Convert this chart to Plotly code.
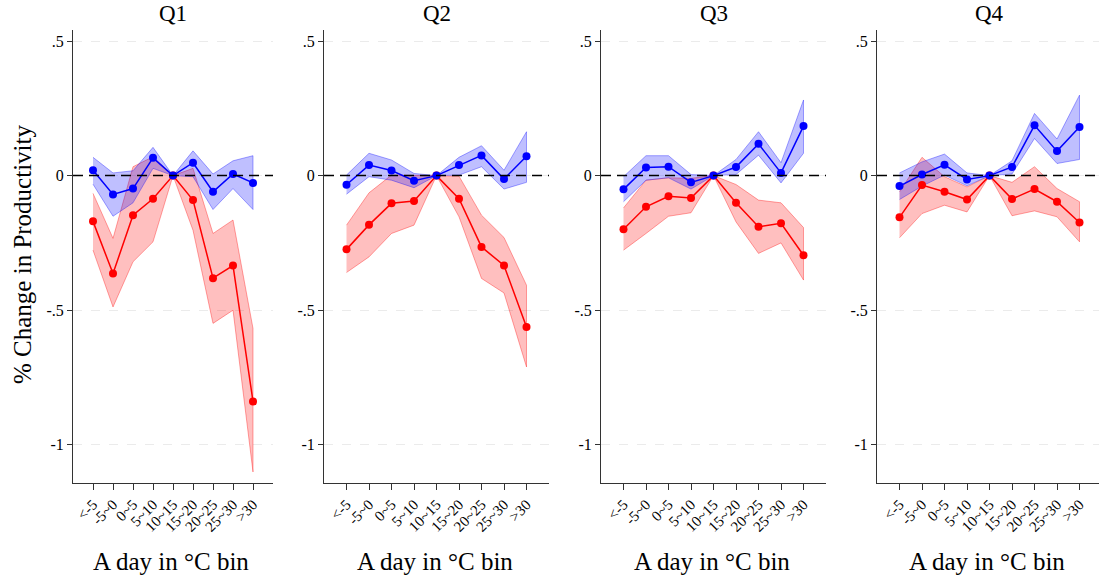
import plotly.graph_objects as go

bins = ["<-5", "-5~0", "0~5", "5~10", "10~15", "15~20", "20~25", "25~30", ">30"]
panels = ["Q1", "Q2", "Q3", "Q4"]
ytick_vals = [0.5, 0, -0.5, -1]
ytick_text = [".5", "0", "-.5", "-1"]

# Blue series (point estimate, upper CI, lower CI) per quarter
blue_q1 = [0.020, -0.070, -0.048, 0.066, 0, 0.048, -0.060, 0.006, -0.027]
blue_q1_hi = [0.068, 0.010, 0.018, 0.105, 0, 0.092, 0.006, 0.055, 0.074]
blue_q1_lo = [-0.032, -0.151, -0.101, 0.027, 0, -0.004, -0.126, -0.048, -0.126]
red_q1 = [-0.170, -0.364, -0.147, -0.086, 0, -0.091, -0.381, -0.334, -0.839]
red_q1_hi = [-0.066, -0.233, 0.033, 0.070, 0, 0.027, -0.215, -0.165, -0.568]
red_q1_lo = [-0.277, -0.488, -0.320, -0.246, 0, -0.203, -0.549, -0.500, -1.101]

blue_q2 = [-0.034, 0.039, 0.019, -0.019, 0, 0.039, 0.075, -0.013, 0.072]
blue_q2_hi = [0.002, 0.083, 0.058, 0.008, 0, 0.068, 0.111, 0.020, 0.163]
blue_q2_lo = [-0.069, -0.004, -0.017, -0.045, 0, 0.002, 0.033, -0.050, -0.025]
red_q2 = [-0.274, -0.183, -0.103, -0.094, 0, -0.086, -0.265, -0.334, -0.562]
red_q2_hi = [-0.184, -0.064, 0.002, 0.002, 0, -0.002, -0.147, -0.230, -0.407]
red_q2_lo = [-0.360, -0.302, -0.215, -0.184, 0, -0.153, -0.382, -0.436, -0.711]

blue_q3 = [-0.051, 0.030, 0.033, -0.025, 0, 0.032, 0.118, 0.010, 0.184]
blue_q3_hi = [-0.004, 0.074, 0.074, 0.004, 0, 0.060, 0.163, 0.048, 0.281]
blue_q3_lo = [-0.097, -0.017, -0.008, -0.050, 0, 0.004, 0.076, -0.027, 0.083]
red_q3 = [-0.199, -0.116, -0.077, -0.083, 0, -0.101, -0.190, -0.177, -0.296]
red_q3_hi = [-0.120, -0.017, -0.008, -0.010, 0, -0.033, -0.091, -0.101, -0.193]
red_q3_lo = [-0.277, -0.215, -0.151, -0.138, 0, -0.172, -0.289, -0.250, -0.388]

blue_q4 = [-0.039, 0.004, 0.040, -0.014, 0, 0.032, 0.187, 0.091, 0.181]
blue_q4_hi = [0.010, 0.051, 0.080, 0.010, 0, 0.055, 0.231, 0.136, 0.299]
blue_q4_lo = [-0.089, -0.039, 0.002, -0.038, 0, 0.006, 0.138, 0.045, 0.060]
red_q4 = [-0.155, -0.035, -0.060, -0.089, 0, -0.087, -0.050, -0.097, -0.174]
red_q4_hi = [-0.060, 0.068, -0.004, -0.042, 0, -0.025, 0.033, -0.048, -0.097]
red_q4_lo = [-0.231, -0.141, -0.110, -0.135, 0, -0.149, -0.131, -0.153, -0.246]

blue = [blue_q1, blue_q2, blue_q3, blue_q4]
blue_hi = [blue_q1_hi, blue_q2_hi, blue_q3_hi, blue_q4_hi]
blue_lo = [blue_q1_lo, blue_q2_lo, blue_q3_lo, blue_q4_lo]
red = [red_q1, red_q2, red_q3, red_q4]
red_hi = [red_q1_hi, red_q2_hi, red_q3_hi, red_q4_hi]
red_lo = [red_q1_lo, red_q2_lo, red_q3_lo, red_q4_lo]

W, H = 1099, 575
FONT = "Liberation Serif"
xpos = list(range(1, 10))

# panel pixel extents (left, right)
px_dom = [(73, 273), (324, 549), (601, 826), (877, 1099)]
y_top_px, y_bot_px = 30, 483
y_range = [-1.142, 0.541]

fig = go.Figure()

def band(xa, ya, hi, lo, fill, edge):
    fig.add_trace(go.Scatter(
        x=xpos + xpos[::-1], y=hi + lo[::-1], xaxis=xa, yaxis=ya,
        fill="toself", fillcolor=fill, mode="lines",
        line=dict(color=edge, width=1), hoverinfo="skip", showlegend=False))

def series(xa, ya, vals, color):
    fig.add_trace(go.Scatter(
        x=xpos, y=vals, xaxis=xa, yaxis=ya, mode="lines+markers",
        line=dict(color=color, width=1.5),
        marker=dict(color=color, size=8), showlegend=False))

layout = dict(
    width=W, height=H, margin=dict(l=0, r=0, t=0, b=0),
    paper_bgcolor="white", plot_bgcolor="white",
    font=dict(family=FONT, color="black"),
    showlegend=False,
)
annotations = []
shapes = []

for i in range(4):
    n = "" if i == 0 else str(i + 1)
    xa, ya = "x" + n, "y" + n
    l, r = px_dom[i]
    xr = [0, 10 * (r - l) / 225.0] if i == 3 else [0, 10]
    layout["xaxis" + n] = dict(
        domain=[l / W, r / W], range=xr, anchor=ya,
        tickmode="array", tickvals=xpos, ticktext=bins, tickangle=-45,
        tickfont=dict(family=FONT, size=15), ticks="outside", ticklen=6,
        tickcolor="#333", showline=True, linecolor="#333", linewidth=1,
        showgrid=False, zeroline=False, fixedrange=True)
    layout["yaxis" + n] = dict(
        domain=[1 - y_bot_px / H, 1 - y_top_px / H], range=y_range, anchor=xa,
        tickmode="array", tickvals=ytick_vals, ticktext=ytick_text,
        tickfont=dict(family=FONT, size=16), ticks="outside", ticklen=5,
        tickcolor="#333", showline=True, linecolor="#333", linewidth=1,
        showgrid=True, gridcolor="#ebebeb", griddash="dash", gridwidth=1,
        zeroline=False, fixedrange=True)

    band(xa, ya, red_hi[i], red_lo[i], "rgba(255,0,0,0.25)", "rgba(255,0,0,0.35)")
    band(xa, ya, blue_hi[i], blue_lo[i], "rgba(0,0,255,0.25)", "rgba(0,0,255,0.35)")
    series(xa, ya, red[i], "#ff0000")
    series(xa, ya, blue[i], "#0000ff")

    shapes.append(dict(type="line", xref=xa + " domain", yref=ya,
                       x0=0, x1=1, y0=0, y1=0,
                       line=dict(color="black", width=1.5, dash="10px,6px")))

    cx = (l + (l + 225 if i == 3 else r)) / 2 / W
    annotations.append(dict(text=panels[i], xref="paper", yref="paper",
                            x=cx, y=1 - 13 / H, showarrow=False,
                            xanchor="center", yanchor="middle",
                            font=dict(family=FONT, size=23)))
    annotations.append(dict(text="A day in °C bin", xref="paper", yref="paper",
                            x=cx - 2 / W, y=1 - 561 / H, showarrow=False,
                            xanchor="center", yanchor="middle",
                            font=dict(family=FONT, size=25)))

annotations.append(dict(text="% Change in Productivity", xref="paper", yref="paper",
                        x=22 / W, y=1 - 255 / H, textangle=-90, showarrow=False,
                        xanchor="center", yanchor="middle",
                        font=dict(family=FONT, size=25)))

layout["annotations"] = annotations
layout["shapes"] = shapes
fig.update_layout(**layout)

fig.write_html("out.html")
